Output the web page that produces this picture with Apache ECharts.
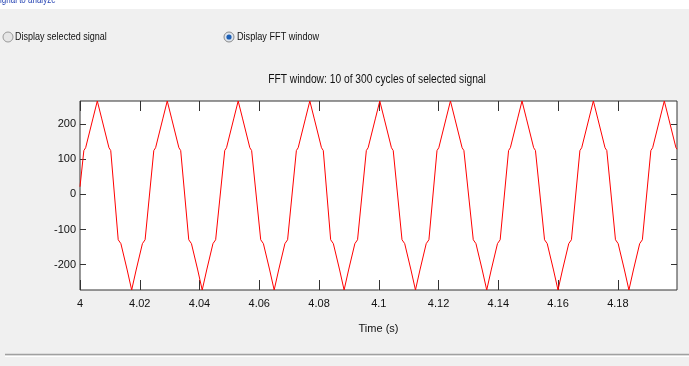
<!DOCTYPE html>
<html>
<head>
<meta charset="utf-8">
<script src="https://cdn.jsdelivr.net/npm/echarts@6/dist/echarts.min.js"></script>
<style>
  html, body { margin: 0; padding: 0; background: #f0f0f0; }
  #chart { width: 689px; height: 366px; }
</style>
</head>
<body>
<div id="chart"></div>
<script>
// signal samples (time in s, amplitude)
const times = [
  4.00000,
  4.00129, 4.00189, 4.00429, 4.00579, 4.00729, 4.00969, 4.01029,
  4.01279, 4.01369, 4.01579, 4.01729, 4.01879, 4.02089, 4.02179,
  4.02470, 4.02530, 4.02770, 4.02920, 4.03070, 4.03310, 4.03370,
  4.03640, 4.03730, 4.03940, 4.04090, 4.04240, 4.04450, 4.04540,
  4.04844, 4.04904, 4.05144, 4.05294, 4.05444, 4.05684, 4.05744,
  4.06048, 4.06138, 4.06348, 4.06498, 4.06648, 4.06858, 4.06948,
  4.07242, 4.07302, 4.07542, 4.07692, 4.07842, 4.08082, 4.08142,
  4.08389, 4.08479, 4.08689, 4.08839, 4.08989, 4.09199, 4.09289,
  4.09583, 4.09643, 4.09883, 4.10033, 4.10183, 4.10423, 4.10483,
  4.10777, 4.10867, 4.11077, 4.11227, 4.11377, 4.11587, 4.11677,
  4.11948, 4.12008, 4.12248, 4.12398, 4.12548, 4.12788, 4.12848,
  4.13162, 4.13252, 4.13462, 4.13612, 4.13762, 4.13972, 4.14062,
  4.14343, 4.14403, 4.14643, 4.14793, 4.14943, 4.15183, 4.15243,
  4.15547, 4.15637, 4.15847, 4.15997, 4.16147, 4.16357, 4.16447,
  4.16731, 4.16791, 4.17031, 4.17181, 4.17331, 4.17571, 4.17631,
  4.17921, 4.18011, 4.18221, 4.18371, 4.18521, 4.18731, 4.18821,
  4.19105, 4.19165, 4.19405, 4.19555, 4.19705, 4.19945, 4.19980
];
const values = [
  22,
  125, 133, 215, 266, 215, 133, 125,
  -129, -140, -215, -272, -215, -140, -129,
  125, 133, 215, 266, 215, 133, 125,
  -129, -140, -215, -272, -215, -140, -129,
  125, 133, 215, 266, 215, 133, 125,
  -129, -140, -215, -272, -215, -140, -129,
  125, 133, 215, 266, 215, 133, 125,
  -129, -140, -215, -272, -215, -140, -129,
  125, 133, 215, 266, 215, 133, 125,
  -129, -140, -215, -272, -215, -140, -129,
  125, 133, 215, 266, 215, 133, 125,
  -129, -140, -215, -272, -215, -140, -129,
  125, 133, 215, 266, 215, 133, 125,
  -129, -140, -215, -272, -215, -140, -129,
  125, 133, 215, 266, 215, 133, 125,
  -129, -140, -215, -272, -215, -140, -129,
  125, 133, 215, 266, 215, 133, 129
];
const xTicks = [4, 4.02, 4.04, 4.06, 4.08, 4.1, 4.12, 4.14, 4.16, 4.18];
const yTicks = [-200, -100, 0, 100, 200];

const FONT = '"Liberation Sans", Arial, sans-serif';
const AXIS_COLOR = '#333';
const TEXT_COLOR = '#111';

const chart = echarts.init(document.getElementById('chart'), null, { renderer: 'canvas' });

const hiddenAxis = {
  axisLine: { show: false, onZero: false },
  axisLabel: { show: false },
  splitLine: { show: false }
};

const option = {
  backgroundColor: '#f0f0f0',
  animation: false,
  grid: {
    left: 80, right: 12, top: 101, bottom: 76,
    show: true,
    backgroundColor: '#fff',
    borderColor: AXIS_COLOR,
    borderWidth: 1
  },
  xAxis: [
    {
      type: 'value', min: 4, max: 4.1998, position: 'bottom',
      name: 'Time (s)', nameLocation: 'middle', nameGap: 33,
      nameTextStyle: { fontFamily: FONT, fontSize: 11, color: TEXT_COLOR },
      axisLine: { show: false, onZero: false },
      splitLine: { show: false },
      axisTick: { inside: true, length: 10, customValues: xTicks, lineStyle: { color: AXIS_COLOR } },
      axisLabel: {
        customValues: xTicks, margin: 8,
        fontFamily: FONT, fontSize: 11, color: TEXT_COLOR,
        formatter: v => String(+(+v).toFixed(2))
      }
    },
    Object.assign({
      type: 'value', min: 4, max: 4.1998, position: 'top',
      axisTick: { inside: true, length: 10, customValues: xTicks, lineStyle: { color: AXIS_COLOR } }
    }, hiddenAxis)
  ],
  yAxis: [
    {
      type: 'value', min: -272, max: 266, position: 'left',
      axisLine: { show: false, onZero: false },
      splitLine: { show: false },
      axisTick: { inside: true, length: 6, customValues: yTicks, lineStyle: { color: AXIS_COLOR } },
      axisLabel: {
        customValues: yTicks, margin: 4,
        fontFamily: FONT, fontSize: 11, color: TEXT_COLOR
      }
    },
    Object.assign({
      type: 'value', min: -272, max: 266, position: 'right',
      axisTick: { inside: true, length: 6, customValues: yTicks, lineStyle: { color: AXIS_COLOR } }
    }, hiddenAxis)
  ],
  series: [
    {
      type: 'line',
      xAxisIndex: 0,
      yAxisIndex: 0,
      showSymbol: false,
      lineStyle: { color: '#ff0000', width: 1 },
      data: times.map((t, i) => [t, values[i]])
    }
  ],
  graphic: [
    // white strip with the cut-off panel caption at the very top
    { type: 'rect', shape: { x: 0, y: 0, width: 689, height: 9 }, style: { fill: '#fff' }, z: 10 },
    { type: 'text', x: 0, y: -5, scaleX: 0.8, z: 11,
      style: { text: 'ignal to analyze', font: '10px ' + FONT, fill: '#2846b4' } },
    // radio buttons
    { type: 'circle', shape: { cx: 8, cy: 37, r: 5 }, z: 10,
      style: { fill: '#e6e6e6', stroke: '#9a9a9a', lineWidth: 1 } },
    { type: 'text', x: 15, y: 37, scaleX: 0.82, z: 10,
      style: { text: 'Display selected signal', font: '11px ' + FONT, fill: TEXT_COLOR, verticalAlign: 'middle' } },
    { type: 'circle', shape: { cx: 229, cy: 37, r: 5 }, z: 10,
      style: { fill: '#dfe6ef', stroke: '#8a8a8a', lineWidth: 1 } },
    { type: 'circle', shape: { cx: 229, cy: 37, r: 2.6 }, z: 11,
      style: { fill: '#1d5fb5' } },
    { type: 'text', x: 237, y: 37, scaleX: 0.83, z: 10,
      style: { text: 'Display FFT window', font: '11px ' + FONT, fill: TEXT_COLOR, verticalAlign: 'middle' } },
    // plot title
    { type: 'text', x: 377, y: 80, scaleX: 0.82, z: 10,
      style: { text: 'FFT window: 10 of 300 cycles of selected signal', font: '12.5px ' + FONT,
               fill: TEXT_COLOR, align: 'center', verticalAlign: 'middle' } },
    // panel separator near the bottom
    { type: 'line', shape: { x1: 5, y1: 354.5, x2: 689, y2: 354.5 }, z: 10,
      style: { stroke: '#a0a0a0', lineWidth: 1.5 } },
    { type: 'line', shape: { x1: 5, y1: 356.5, x2: 689, y2: 356.5 }, z: 10,
      style: { stroke: '#ffffff', lineWidth: 1 } }
  ]
};

chart.setOption(option);
</script>
</body>
</html>
